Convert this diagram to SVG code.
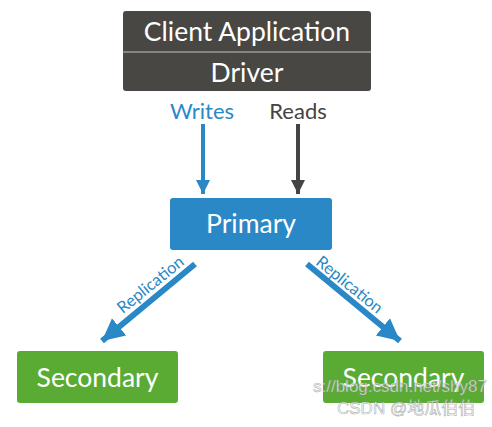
<svg xmlns="http://www.w3.org/2000/svg" width="492" height="427" viewBox="0 0 492 427">
  <style>
    .lbl { font-family: Lato, "Open Sans", "Liberation Sans", sans-serif; fill: #ffffff; font-size: 26.5px; text-anchor: middle; }
    .sm { font-family: Lato, "Open Sans", "Liberation Sans", sans-serif; font-size: 22px; text-anchor: middle; }
    .rep { font-family: Lato, "Open Sans", "Liberation Sans", sans-serif; font-size: 16.5px; fill: #2a88c6; text-anchor: middle; }
    .wm { font-family: "Liberation Sans", "Noto Sans CJK SC", sans-serif; font-size: 17px; fill: #ffffff; fill-opacity: 0.75; stroke: #888888; stroke-width: 0.6; stroke-opacity: 0.7; }
  </style>
  <defs>
    <marker id="hb" viewBox="0 0 10 10" refX="10" refY="5" markerWidth="3.6" markerHeight="4.5" markerUnits="strokeWidth" orient="auto">
      <path d="M0,0 L10,5 L0,10 z" fill="#2a88c6"/>
    </marker>
    <marker id="hd" viewBox="0 0 10 10" refX="10" refY="5" markerWidth="3.6" markerHeight="4.5" markerUnits="strokeWidth" orient="auto">
      <path d="M0,0 L10,5 L0,10 z" fill="#444444"/>
    </marker>
    <marker id="hr" viewBox="0 0 10 10" refX="10" refY="5" markerWidth="3.7" markerHeight="4.2" markerUnits="strokeWidth" orient="auto">
      <path d="M0,0 L10,5 L0,10 z" fill="#2a88c6"/>
    </marker>
  </defs>
  <rect width="492" height="427" fill="#ffffff"/>

  <g id="client">
    <rect x="123" y="11" width="248" height="80" rx="3" fill="#484743"/>
    <line x1="123" y1="52" x2="371" y2="52" stroke="#9a9892" stroke-width="1.5"/>
    <text class="lbl" x="247" y="41">Client Application</text>
    <text class="lbl" x="247" y="82">Driver</text>
  </g>

  <g id="primary">
    <rect x="170" y="198" width="162" height="52" rx="3" fill="#2a88c6"/>
    <text class="lbl" x="251" y="233">Primary</text>
  </g>

  <g id="secondary-left">
    <rect x="17" y="351" width="161" height="52" rx="3" fill="#5aab34"/>
    <text class="lbl" x="97.5" y="387">Secondary</text>
  </g>

  <g id="secondary-right">
    <rect x="323" y="351" width="161" height="52" rx="3" fill="#5aab34"/>
    <text class="lbl" x="403.5" y="387">Secondary</text>
  </g>

  <g id="connectors">
    <text class="sm" x="202" y="119" fill="#2a88c6">Writes</text>
    <text class="sm" x="298" y="119" fill="#444444">Reads</text>
    <line x1="203" y1="124" x2="203" y2="194" stroke="#2a88c6" stroke-width="4" marker-end="url(#hb)"/>
    <line x1="298" y1="124" x2="298" y2="194" stroke="#444444" stroke-width="4" marker-end="url(#hd)"/>
    <line x1="195" y1="264" x2="102" y2="341" stroke="#2a88c6" stroke-width="6" marker-end="url(#hr)"/>
    <line x1="307" y1="264" x2="400" y2="341" stroke="#2a88c6" stroke-width="6" marker-end="url(#hr)"/>
    <text class="rep" transform="translate(154,289) rotate(-39)">Replication</text>
    <text class="rep" transform="translate(346,289) rotate(39)">Replication</text>
  </g>

  <g id="watermark">
    <text class="wm" x="313" y="392">s://blog.csdn.net/shy87</text>
    <text class="wm" x="337" y="414">CSDN @地瓜伯伯</text>
  </g>
</svg>
